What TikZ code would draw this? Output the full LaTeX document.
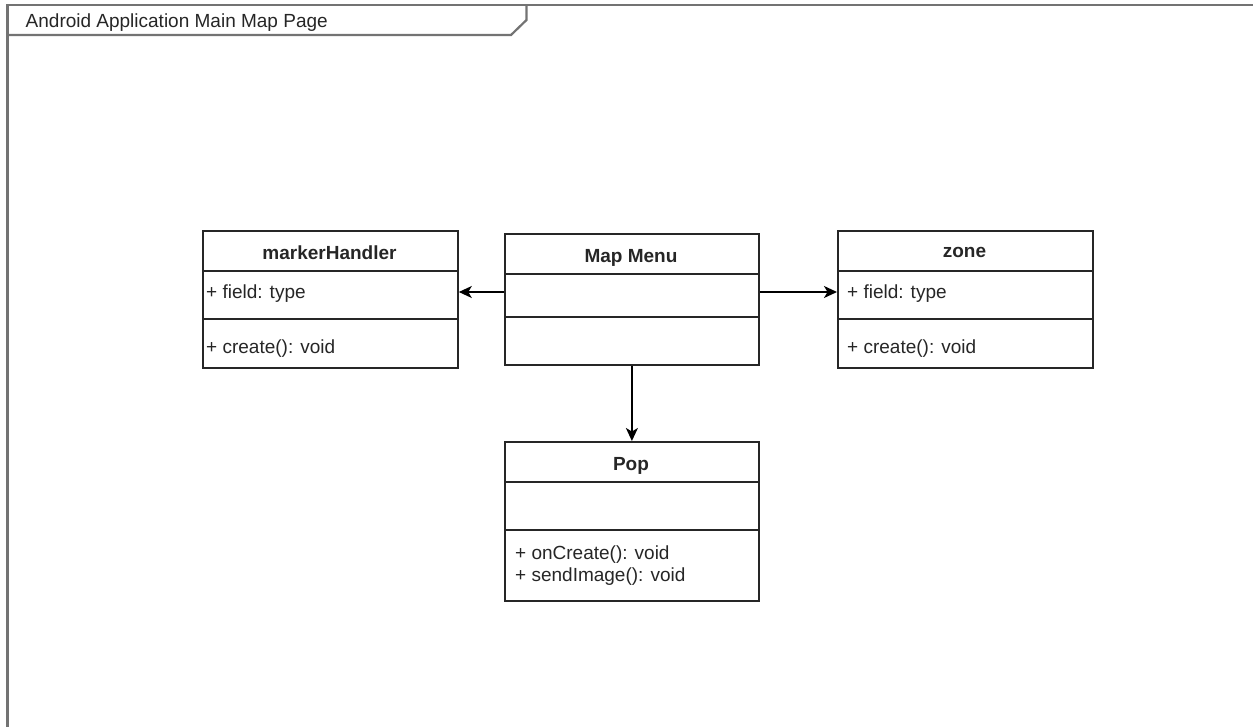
\documentclass[tikz,border=0pt]{standalone}
\usepackage{fontspec}
\setmainfont{Liberation Sans}
\usetikzlibrary{arrows.meta}
\begin{document}
\begin{tikzpicture}[x=1pt,y=-1pt,
  box/.style={draw=black!85, line width=1.8pt, inner sep=0pt, anchor=north west},
  divider/.style={draw=black!85, line width=1.8pt},
  frameline/.style={draw=black!55, line width=2.2pt},
  txt/.style={inner sep=0pt, text=black!85, font=\fontsize{19}{23}\selectfont},
  head/.style={txt, font=\fontsize{19}{23}\selectfont\bfseries, anchor=base},
  member/.style={txt, anchor=base west},
  link/.style={draw=black, line width=1.7pt, -{Stealth[length=13pt,width=12pt,inset=3.5pt]}}]

\useasboundingbox (0,0) rectangle (1253,727);
\clip (0,0) rectangle (1253,727);

% UML frame with its name tab
\draw[frameline] (7.5,740) -- (7.5,5) -- (1270,5);
\draw[frameline] (7.5,35) -- (511,35) -- (526.5,20) -- (526.5,5);
\node[txt, anchor=base west] (title) at (25.5,28) {Android Application Main Map Page};

% class boxes
\node[box, minimum width=255pt, minimum height=137pt] (mh) at (202,230) {};
\node[box, minimum width=254pt, minimum height=131pt] (mm) at (504,233) {};
\node[box, minimum width=255pt, minimum height=137pt] (zone) at (837,230) {};
\node[box, minimum width=254pt, minimum height=159pt] (pop) at (504,441) {};

% compartment dividers
\draw[divider] ([yshift=-41pt]mh.north west) -- ([yshift=-41pt]mh.north east);
\draw[divider] ([yshift=-89pt]mh.north west) -- ([yshift=-89pt]mh.north east);
\draw[divider] ([yshift=-41pt]mm.north west) -- ([yshift=-41pt]mm.north east);
\draw[divider] ([yshift=-84pt]mm.north west) -- ([yshift=-84pt]mm.north east);
\draw[divider] ([yshift=-41pt]zone.north west) -- ([yshift=-41pt]zone.north east);
\draw[divider] ([yshift=-89pt]zone.north west) -- ([yshift=-89pt]zone.north east);
\draw[divider] ([yshift=-41pt]pop.north west) -- ([yshift=-41pt]pop.north east);
\draw[divider] ([yshift=-89pt]pop.north west) -- ([yshift=-89pt]pop.north east);

% class names
\node[head] (mhname) at (329.5,260) {markerHandler};
\node[head] (mmname) at (631,262.5) {Map Menu};
\node[head] (zonename) at (964.5,258) {zone};
\node[head] (popname) at (631,470) {Pop};

% members
\node[member] (mhfield) at (206,299) {+ field: type};
\node[member] (mhop) at (206,353) {+ create(): void};
\node[member] (zonefield) at (847,299) {+ field: type};
\node[member] (zoneop) at (847,353) {+ create(): void};
\node[member] (popop1) at (515,559) {+ onCreate(): void};
\node[member] (popop2) at (515,581) {+ sendImage(): void};

% associations
\draw[link] (mm.west |- 0,292) -- (mh.east |- 0,292);
\draw[link] (mm.east |- 0,292) -- (zone.west |- 0,292);
\draw[link] (mm.south) -- (pop.north);
\end{tikzpicture}
\end{document}
